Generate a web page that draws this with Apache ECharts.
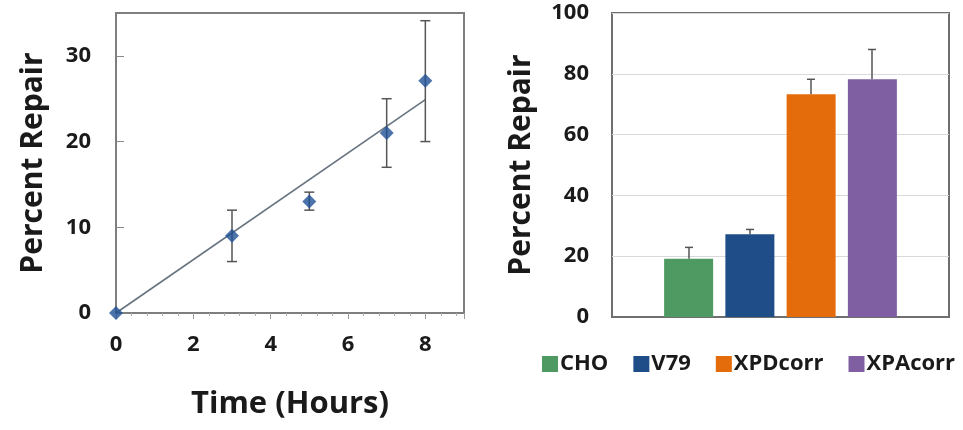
<!DOCTYPE html>
<html>
<head>
<meta charset="utf-8">
<script src="https://cdn.jsdelivr.net/npm/echarts@6/dist/echarts.min.js"></script>
<style>
  html, body { margin: 0; padding: 0; background: #fff; }
  #main { width: 963px; height: 430px; }
</style>
</head>
<body>
<div id="main"></div>
<script>
// left panel: repair over time
var hours = [0, 3, 5, 7, 8];
var repairMean = [0, 9, 13, 21, 27.1];
var repairLow = [0, 6, 12, 17, 20];
var repairHigh = [0, 12, 14.1, 25, 34.1];
var trendX = [0, 8];
var trendY = [0, 24.9];

// right panel: cell lines
var cellLines = ["CHO", "V79", "XPDcorr", "XPAcorr"];
var cellRepair = [19.2, 27.2, 73.3, 78.2];
var cellErrTop = [22.9, 28.8, 78.2, 88.0];
var cellColors = ["#4f9a63", "#1f4d87", "#e46c0b", "#7f5fa2"];

var FONT = "Open Sans";

function errRender(capW, upOnly) {
  return function (params, api) {
    var x = api.value(0);
    var lo = api.coord([x, api.value(1)]);
    var hi = api.coord([x, api.value(2)]);
    var style = { stroke: "#555", lineWidth: 1.5 };
    var kids = [
      { type: "line", shape: { x1: hi[0], y1: hi[1], x2: lo[0], y2: lo[1] }, style: style },
      { type: "line", shape: { x1: hi[0] - capW, y1: hi[1], x2: hi[0] + capW, y2: hi[1] }, style: style }
    ];
    if (!upOnly) {
      kids.push({ type: "line", shape: { x1: lo[0] - capW, y1: lo[1], x2: lo[0] + capW, y2: lo[1] }, style: style });
    }
    return { type: "group", children: kids };
  };
}

var pts = hours.map(function (h, i) { return [h, repairMean[i]]; });
var errs = hours.map(function (h, i) { return [h, repairLow[i], repairHigh[i]]; })
  .filter(function (d) { return d[2] > d[1]; });
var trend = trendX.map(function (x, i) { return [x, trendY[i]]; });

var barSeries = cellLines.map(function (name, i) {
  return {
    name: name,
    type: "bar",
    xAxisIndex: 1,
    yAxisIndex: 1,
    barWidth: 49,
    barGap: "25%",
    itemStyle: { color: cellColors[i] },
    data: [cellRepair[i]],
    z: 2
  };
});

// error bars for bars: drawn on top of each bar, offset to that bar's centre
var barErr = {
  type: "custom",
  xAxisIndex: 1,
  yAxisIndex: 1,
  z: 5,
  data: cellLines.map(function (n, i) { return [i, cellRepair[i], cellErrTop[i]]; }),
  renderItem: function (params, api) {
    var i = api.value(0);
    var base = api.coord([0, api.value(1)]);
    var top = api.coord([0, api.value(2)]);
    // 4 bars of 49px with 12px gaps, centred on the category
    var cx = base[0] + (i - 1.5) * 61;
    var style = { stroke: "#555", lineWidth: 1.5 };
    return {
      type: "group",
      children: [
        { type: "line", shape: { x1: cx, y1: top[1], x2: cx, y2: base[1] }, style: style },
        { type: "line", shape: { x1: cx - 4, y1: top[1], x2: cx + 4, y2: top[1] }, style: style }
      ]
    };
  }
};

var option = {
  animation: false,
  textStyle: { fontFamily: FONT },
  grid: [
    { left: 116, top: 13, width: 348, height: 300, show: true, borderColor: "#7f7f7f", borderWidth: 2 },
    { left: 612, top: 13, width: 337, height: 304, show: true, borderColor: "#6f6f6f", borderWidth: 2 }
  ],
  legend: {
    data: cellLines,
    left: 542,
    top: 353,
    width: 440,
    padding: 0,
    itemWidth: 16,
    itemHeight: 16,
    itemGap: 25,
    icon: "rect",
    textStyle: { fontFamily: FONT, fontWeight: "bold", fontSize: 22, color: "#1a1a1a", padding: [0, 0, 0, -3] }
  },
  xAxis: [
    {
      type: "value", gridIndex: 0, min: 0, max: 9, interval: 2,
      name: "Time (Hours)", nameLocation: "middle", nameGap: 76,
      nameTextStyle: { fontFamily: FONT, fontWeight: "bold", fontSize: 31, color: "#1a1a1a" },
      axisLine: { lineStyle: { color: "#7f7f7f", width: 2 } },
      axisTick: { show: true, length: 6, lineStyle: { color: "#999" } },
      minorTick: { show: true, splitNumber: 5, length: 3, lineStyle: { color: "#aaa" } },
      splitLine: { show: false },
      axisLabel: { fontFamily: FONT, fontWeight: "bold", fontSize: 22, color: "#1a1a1a", margin: 21, showMaxLabel: false,
        formatter: function (v) { return v > 8 ? "" : v; } }
    },
    {
      type: "category", gridIndex: 1, data: [""],
      axisLine: { lineStyle: { color: "#6f6f6f", width: 2 } },
      axisTick: { show: false },
      axisLabel: { show: false }
    }
  ],
  yAxis: [
    {
      type: "value", gridIndex: 0, min: 0, max: 35, interval: 10,
      name: "Percent Repair", nameLocation: "middle", nameGap: 68,
      nameTextStyle: { fontFamily: FONT, fontWeight: "bold", fontSize: 30, color: "#1a1a1a" },
      axisLine: { lineStyle: { color: "#7f7f7f", width: 2 } },
      axisTick: { show: true, inside: true, length: 8, lineStyle: { color: "#888" } },
      splitLine: { show: false },
      axisLabel: { fontFamily: FONT, fontWeight: "bold", fontSize: 22, color: "#1a1a1a", margin: 25, showMaxLabel: false,
        formatter: function (v) { return v > 30 ? "" : v; } }
    },
    {
      type: "value", gridIndex: 1, min: 0, max: 100, interval: 20,
      name: "Percent Repair", nameLocation: "middle", nameGap: 76,
      nameTextStyle: { fontFamily: FONT, fontWeight: "bold", fontSize: 30, color: "#1a1a1a" },
      axisLine: { lineStyle: { color: "#6f6f6f", width: 2 } },
      axisTick: { show: false },
      splitLine: { show: true, lineStyle: { color: "#d9d9d9", width: 1 } },
      axisLabel: { fontFamily: FONT, fontWeight: "bold", fontSize: 22, color: "#1a1a1a", margin: 23 }
    }
  ],
  series: [
    {
      type: "line", xAxisIndex: 0, yAxisIndex: 0, data: trend,
      symbol: "none", lineStyle: { color: "#67737f", width: 1.6 }, z: 2
    },
    {
      type: "custom", xAxisIndex: 0, yAxisIndex: 0, data: errs,
      renderItem: errRender(5, false), z: 3
    },
    {
      type: "scatter", xAxisIndex: 0, yAxisIndex: 0, data: pts,
      symbol: "diamond", symbolSize: 14, itemStyle: { color: "#1f5095" }, z: 4
    }
  ].concat(barSeries).concat([barErr])
};

var chart = echarts.init(document.getElementById("main"));
chart.setOption(option);
</script>
</body>
</html>
